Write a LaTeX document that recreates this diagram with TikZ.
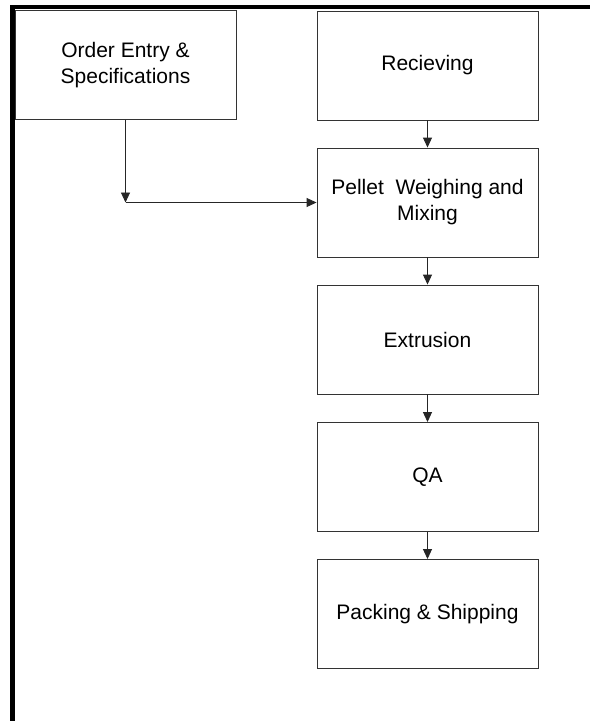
\documentclass[tikz,border=0pt]{standalone}
\usepackage{fontspec}
\setmainfont{Liberation Sans}
\usetikzlibrary{arrows.meta}
\begin{document}
\begin{tikzpicture}[x=1pt,y=-1pt,
  procbox/.style={draw=black!80, line width=0.9pt, minimum width=221pt, minimum height=109pt,
     inner sep=0pt, align=center, font=\fontsize{21}{26}\selectfont},
  flow/.style={draw=black!85, line width=0.9pt, -{Triangle[width=9pt,length=10pt]}},
  frameline/.style={line width=4.5pt, black}]
\useasboundingbox (0,0) rectangle (590,721);
\fill[white] (0,0) rectangle (590,721);
% frame
\coordinate (ftl) at (12.5,4.75);
\coordinate (fbl) at (12.5,721);
\coordinate (fl) at (10.25,7);
\coordinate (ftr) at (590,7);
\draw[frameline] (fbl) -- (ftl);
\draw[frameline] (fl) -- (ftr);
% boxes
\node[procbox] (oe) at (125.5,65) {Order Entry \&\\Specifications};
\node[procbox] (rc) at (427.5,65.5) {Recieving};
\node[procbox] (pw) at (427.5,202.5) {Pellet\ \ Weighing and\\Mixing};
\node[procbox] (ex) at (427.5,339.5) {Extrusion};
\node[procbox] (qa) at (427.5,477) {QA};
\node[procbox] (ps) at (427.5,614) {Packing \& Shipping};
% connectors
\coordinate (corner) at (125.5,202.5);
\draw[flow] (oe.south) -- (corner);
\draw[flow] (corner) -- (pw.west);
\draw[flow] (rc.south) -- (pw.north);
\draw[flow] (pw.south) -- (ex.north);
\draw[flow] (ex.south) -- (qa.north);
\draw[flow] (qa.south) -- (ps.north);
\end{tikzpicture}
\end{document}
